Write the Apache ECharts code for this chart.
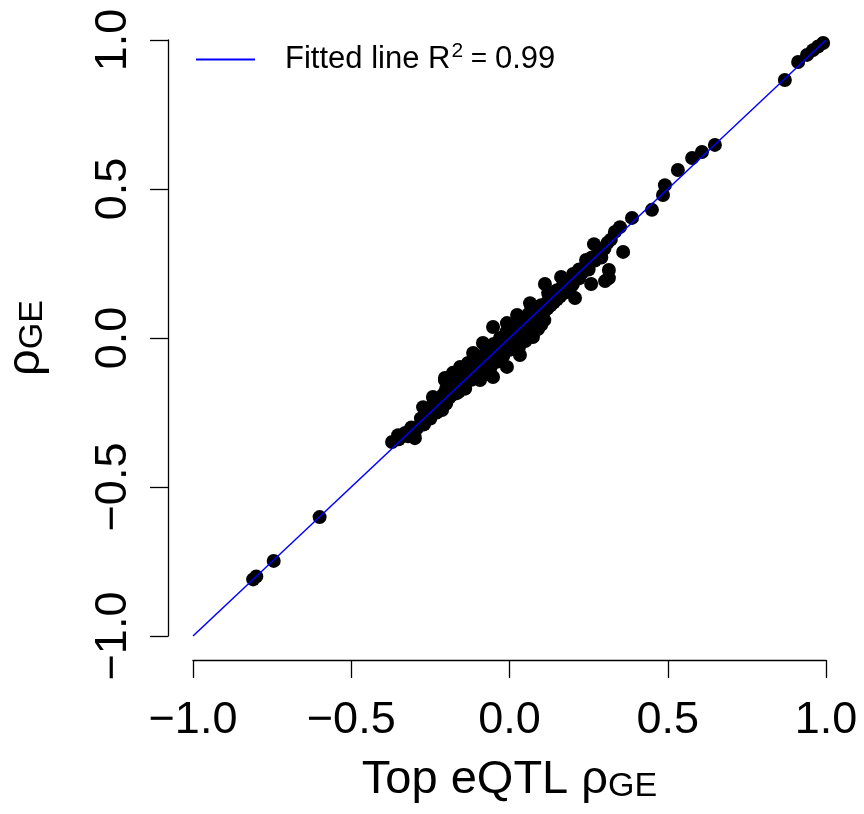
<!DOCTYPE html>
<html>
<head>
<meta charset="utf-8">
<script src="https://cdn.jsdelivr.net/npm/echarts@6/dist/echarts.min.js"></script>
<style>html,body{margin:0;padding:0;background:#fff}#chart{width:864px;height:814px}</style>
</head>
<body>
<div id="chart"></div>
<script>
// Top eQTL rho_GE (x) vs rho_GE (y)
const pointsX = [
  -0.81,-0.80,-0.745,-0.60,
  -0.371,-0.352,-0.330,-0.305,-0.299,-0.273,-0.242,-0.213,-0.204,-0.179,-0.156,-0.131,-0.166,-0.147,
  -0.204,-0.166,-0.115,-0.084,-0.052,-0.008,0.024,0.065,0.074,0.033,-0.052,-0.093,-0.008,
  0.112,0.163,0.201,0.242,0.267,0.359,0.314,0.302,0.258,0.068,0.122,0.100,0.055,0.207,0.314,
  -0.35,-0.34,-0.32,-0.31,-0.30,-0.29,-0.28,-0.27,-0.26,-0.25,-0.24,-0.23,-0.22,-0.21,-0.20,-0.20,-0.19,-0.18,-0.18,-0.17,-0.16,-0.15,-0.15,-0.14,-0.14,-0.13,-0.12,-0.12,-0.11,-0.10,-0.10,-0.09,-0.09,-0.08,-0.08,-0.07,-0.07,-0.06,-0.06,-0.05,-0.05,-0.04,-0.04,-0.03,-0.03,-0.02,-0.02,-0.01,-0.01,0.00,0.00,0.01,0.01,0.02,0.02,0.03,0.03,0.04,0.04,0.05,0.05,0.06,0.06,0.07,0.07,0.08,0.08,0.09,0.09,0.10,0.10,0.11,0.11,0.12,0.12,0.13,0.13,0.14,0.14,0.15,0.15,0.16,0.17,0.17,0.18,0.19,0.19,0.20,0.21,0.22,0.22,0.23,0.24,0.25,0.26,0.27,0.28,0.29,0.30,0.31,0.32,
  0.333,0.349,0.387,0.450,0.485,0.491,0.532,0.577,0.608,0.649,
  0.870,0.912,0.940,0.959,0.975,0.991
];
const pointsY = [
  -0.81,-0.80,-0.748,-0.601,
  -0.349,-0.326,-0.319,-0.315,-0.336,-0.232,-0.198,-0.242,-0.141,-0.117,-0.097,-0.084,-0.185,-0.164,
  -0.134,-0.114,-0.050,-0.017,0.037,0.050,0.077,0.117,0.003,-0.057,-0.131,-0.141,-0.097,
  0.181,0.205,0.215,0.262,0.315,0.289,0.228,0.191,0.181,0.107,0.151,0.044,0.044,0.134,0.201,
  -0.34,-0.33,-0.33,-0.30,-0.32,-0.30,-0.27,-0.29,-0.25,-0.27,-0.22,-0.25,-0.21,-0.19,-0.22,-0.17,-0.20,-0.16,-0.19,-0.15,-0.18,-0.13,-0.16,-0.12,-0.17,-0.11,-0.14,-0.09,-0.12,-0.08,-0.13,-0.06,-0.11,-0.07,-0.12,-0.04,-0.09,-0.05,-0.10,-0.02,-0.07,-0.03,-0.08,0.00,-0.05,-0.01,-0.06,0.02,-0.03,0.01,-0.04,0.03,-0.02,0.05,0.00,0.02,-0.03,0.06,0.01,0.03,-0.01,0.08,0.04,0.05,0.01,0.09,0.06,0.07,0.03,0.11,0.08,0.09,0.06,0.12,0.10,0.14,0.11,0.12,0.15,0.13,0.16,0.14,0.18,0.15,0.17,0.19,0.16,0.18,0.21,0.20,0.23,0.22,0.24,0.23,0.27,0.26,0.28,0.27,0.30,0.32,0.33,
  0.356,0.372,0.403,0.430,0.480,0.513,0.564,0.604,0.624,0.648,
  0.866,0.926,0.950,0.966,0.978,0.990
];
// fitted line endpoints
const fitX = [-1.0, 1.0];
const fitY = [-1.0, 1.0];
const tickValues = [-1.0, -0.5, 0.0, 0.5, 1.0];
const legendLabel = 'Fitted line';
const r2Text = '0.99';

const scatterData = pointsX.map((x, i) => [x, pointsY[i]]);
const fitData = fitX.map((x, i) => [x, fitY[i]]);
const fmt = v => (v < 0 ? '\u2212' : '') + Math.abs(v).toFixed(1);
const FONT = '"Liberation Sans", Arial, Helvetica, sans-serif';

const chart = echarts.init(document.getElementById('chart'), null, {renderer: 'canvas'});
chart.setOption({
  animation: false,
  backgroundColor: '#ffffff',
  textStyle: {fontFamily: FONT, color: '#000'},
  grid: {left: 193, right: 38, top: 40, bottom: 178, containLabel: false, outerBoundsMode: 'none'},
  legend: {
    left: 196, top: 41, padding: 0,
    itemWidth: 59, itemHeight: 2,
    data: [{name: legendLabel, icon: 'rect'}],
    formatter: () => 'Fitted line R{sup|2}{eq| = }' + r2Text,
    textStyle: {
      fontFamily: FONT, fontSize: 31, color: '#000', padding: [0, 0, 0, 25],
      rich: {
        sup: {fontSize: 21, fontFamily: FONT, padding: [0, 0, 16, 1], color: '#000'},
        eq: {fontSize: 28, fontFamily: FONT, color: '#000'}
      }
    }
  },
  xAxis: {
    type: 'value', min: -1, max: 1, interval: 0.5,
    offset: 24,
    axisLine: {show: true, onZero: false, lineStyle: {color: '#000', width: 1.3}},
    axisTick: {show: true, length: 18, lineStyle: {color: '#000', width: 1.3}},
    axisLabel: {formatter: fmt, fontSize: 45, fontFamily: FONT, color: '#000', margin: 38, showMinLabel: true, showMaxLabel: true, hideOverlap: false},
    splitLine: {show: false},
    name: 'Top eQTL \u03c1{sub|GE}',
    nameLocation: 'middle', nameGap: 96,
    nameTextStyle: {fontSize: 47, fontFamily: FONT, color: '#000',
      rich: {sub: {fontSize: 34, fontFamily: FONT, color: '#000', padding: [14, 0, 0, 0]}}}
  },
  yAxis: {
    type: 'value', min: -1, max: 1, interval: 0.5,
    offset: 25,
    axisLine: {show: true, onZero: false, lineStyle: {color: '#000', width: 1.3}},
    axisTick: {show: true, length: 18, lineStyle: {color: '#000', width: 1.3}},
    axisLabel: {formatter: fmt, fontSize: 45, fontFamily: FONT, color: '#000', rotate: 90, margin: 32, showMinLabel: true, showMaxLabel: true, hideOverlap: false},
    splitLine: {show: false},
    name: '\u03c1{sub|GE}',
    nameLocation: 'middle', nameGap: 118, nameRotate: 90,
    nameTextStyle: {fontSize: 47, fontFamily: FONT, color: '#000',
      rich: {sub: {fontSize: 34, fontFamily: FONT, color: '#000', padding: [14, 0, 0, 0]}}}
  },
  series: [
    {
      name: 'points', type: 'scatter', data: scatterData,
      symbol: 'circle', symbolSize: 14,
      itemStyle: {color: '#000', opacity: 1}, z: 2
    },
    {
      name: legendLabel, type: 'line', data: fitData,
      symbol: 'none', lineStyle: {color: '#0000ff', width: 1.5},
      itemStyle: {color: '#0000ff'}, z: 3
    }
  ]
});
</script>
</body>
</html>
